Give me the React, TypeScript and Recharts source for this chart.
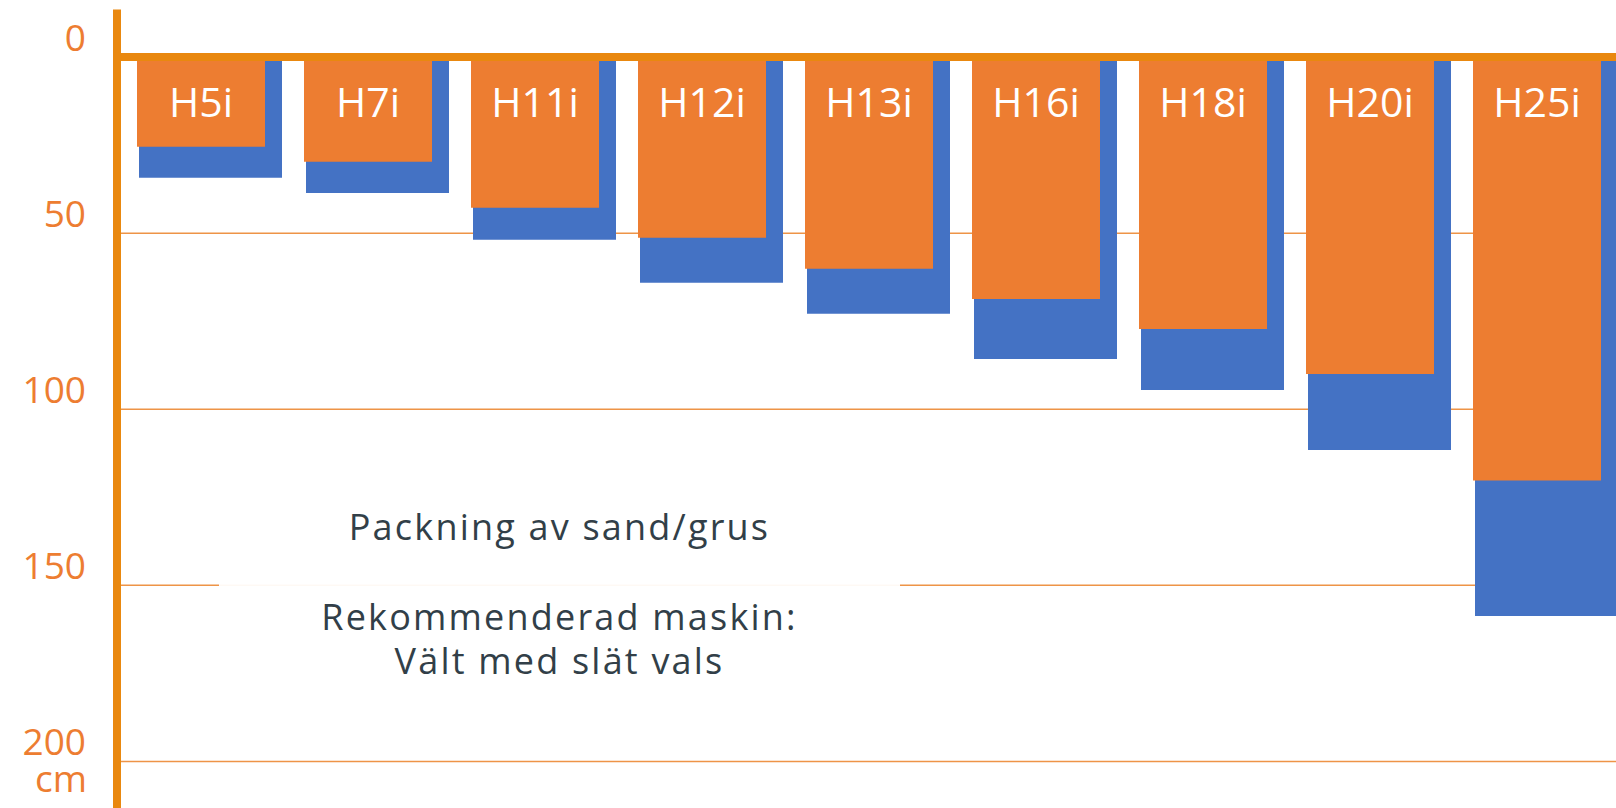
import React from "react";
import {
  BarChart,
  Bar,
  XAxis,
  YAxis,
  CartesianGrid,
  ReferenceLine,
  LabelList,
} from "recharts";

const machines = ["H5i", "H7i", "H11i", "H12i", "H13i", "H16i", "H18i", "H20i", "H25i"];
const shallowDepth = [25.5, 29.7, 42.8, 51.3, 60.1, 68.7, 77.2, 90, 120.2];
const deepDepth = [34.3, 38.6, 51.9, 64.1, 72.9, 85.7, 94.5, 111.6, 158.7];
const depthTicks = [0, 50, 100, 150, 200];

const data = machines.map((name, i) => ({
  name,
  shallow: shallowDepth[i],
  deep: deepDepth[i],
}));

const ORANGE = "#ED7D31";
const BLUE = "#4472C4";
const AXIS = "#E9880F";
const TEXT = "#323F48";
const FONT = '"Open Sans", sans-serif';

function DepthTick(props: any) {
  const { x, y, payload } = props;
  return (
    <text x={x} y={y - 6.5} textAnchor="end" fill={ORANGE} fontSize={37} fontFamily={FONT}>
      {payload.value}
      {payload.value === 200 && (
        <tspan x={x + 1} dy={37.5}>
          cm
        </tspan>
      )}
    </text>
  );
}

function MachineLabel(props: any) {
  const { x, y, width, height, value } = props;
  const top = Math.min(y, y + height);
  return (
    <text
      x={x + width / 2}
      y={top + 60}
      textAnchor="middle"
      fill="#ffffff"
      fontSize={41}
      fontFamily={FONT}
    >
      {value}
    </text>
  );
}

export default function App() {
  return (
    <div
      style={{
        position: "fixed",
        left: 0,
        top: 0,
        width: 1616,
        height: 808,
        overflow: "hidden",
        background: "#ffffff",
        fontFamily: FONT,
      }}
    >
      <BarChart
        width={1630}
        height={809}
        data={data}
        margin={{ top: 9.5, right: 0, bottom: 0, left: 0 }}
      >
        <CartesianGrid
          xAxisId="o"
          vertical={false}
          syncWithTicks
          stroke="#EE9447"
          strokeWidth={1.5}
        />
        <XAxis xAxisId="o" dataKey="name" hide padding={{ left: 0, right: 10 }} />
        <XAxis xAxisId="b" dataKey="name" hide padding={{ left: 10, right: 0 }} />
        <YAxis
          reversed
          type="number"
          domain={[-13.5, 213.5]}
          allowDataOverflow
          ticks={depthTicks}
          width={117}
          axisLine={{ stroke: AXIS, strokeWidth: 8 }}
          tickLine={false}
          tickSize={6}
          tickMargin={25}
          tick={<DepthTick />}
        />
        <Bar
          xAxisId="b"
          dataKey="deep"
          fill={BLUE}
          barSize={143}
          isAnimationActive={false}
        />
        <Bar
          xAxisId="o"
          dataKey="shallow"
          fill={ORANGE}
          barSize={128}
          isAnimationActive={false}
        >
          <LabelList dataKey="name" content={<MachineLabel />} />
        </Bar>
        <ReferenceLine xAxisId="o" y={0} stroke={AXIS} strokeWidth={8} />
      </BarChart>
      <div
        style={{
          position: "absolute",
          left: 219,
          top: 480,
          width: 681,
          height: 215,
          background: "rgba(255,255,255,0.94)",
          color: TEXT,
          fontSize: 36,
          letterSpacing: "2.2px",
          lineHeight: "44px",
          textAlign: "center",
        }}
      >
        <div style={{ position: "absolute", left: 0, right: 0, top: 24.7 }}>
          Packning av sand/grus
        </div>
        <div style={{ position: "absolute", left: 0, right: 0, top: 114.7 }}>
          Rekommenderad maskin:
          <br />
          Vält med slät vals
        </div>
      </div>
    </div>
  );
}
